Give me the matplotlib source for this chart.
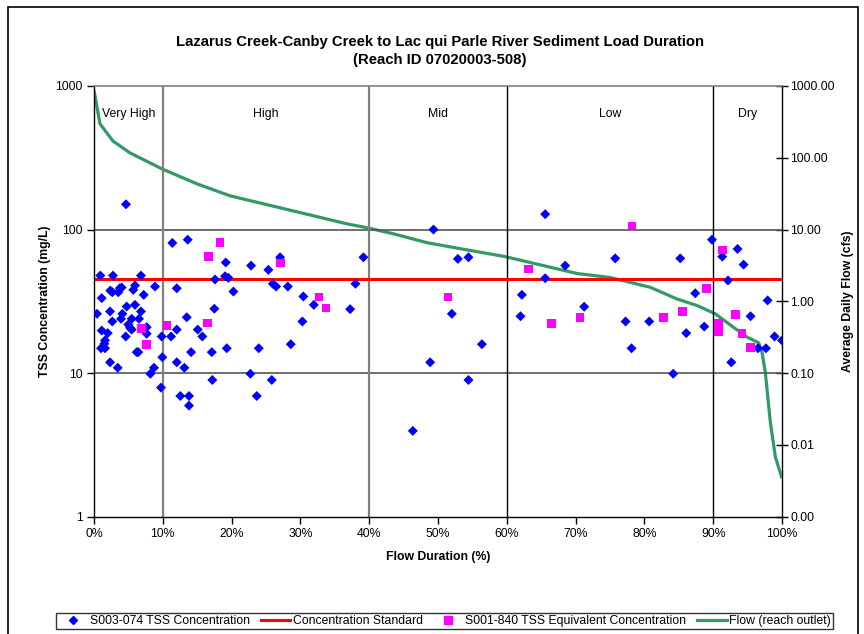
import matplotlib
matplotlib.use("Agg")
import matplotlib.pyplot as plt
from matplotlib.lines import Line2D
from matplotlib.patches import Rectangle
from matplotlib.ticker import FixedLocator, FixedFormatter, NullLocator

plt.rcParams['font.family'] = ['Liberation Sans', 'DejaVu Sans']

# ---------------- data ----------------
tss_x = [0.92, 2.76, 6.83, 4.65, 11.39, 13.62, 19.15, 19.05, 19.53, 17.59, 20.26,
         5.96, 8.87, 12.03, 3.74, 4.03, 2.37, 2.66, 3.53, 5.71, 7.23, 1.12, 4.75,
         5.96, 17.49, 2.33, 6.83, 0.44, 4.12, 13.48, 3.93, 5.48, 6.54, 2.66, 4.99,
         5.23, 5.48, 7.66, 1.12, 1.99, 7.66, 12.03, 15.08, 4.61, 9.84, 11.20, 15.75,
         1.60, 1.50, 1.02, 1.60, 6.21, 6.44, 14.11, 17.12, 19.30, 9.93, 2.33, 3.45,
         12.03, 13.13, 8.72, 8.19, 17.20, 9.74, 12.55, 13.81, 13.81, 22.73, 23.66,
         25.84, 28.60, 30.29, 23.95, 27.05, 22.83, 25.35, 39.16, 25.99, 26.47, 28.17,
         38.00, 30.43, 31.95, 37.23, 49.34, 52.89, 54.43, 68.49, 65.58, 62.19, 61.99,
         71.25, 52.01, 56.38, 48.86, 54.43, 46.34, 65.58, 89.82, 75.76, 85.21, 93.54,
         91.32, 94.42, 92.15, 87.39, 97.91, 77.26, 80.70, 95.43, 86.08, 88.70, 98.92,
         100.0, 78.13, 96.51, 97.67, 92.63, 84.19]
tss_y = [47.8, 47.8, 47.8, 150, 80.7, 85, 59, 47.3, 46.1, 44.9, 37,
         40.8, 40.1, 39, 39, 39.5, 37.6, 36.6, 36.6, 38, 35.1, 33.3, 29.1,
         29.9, 28.1, 26.9, 26.9, 25.9, 25.9, 24.5, 23.9, 23.9, 23.9, 22.9, 21.8,
         20.7, 20.1, 20.9, 19.8, 19, 18.8, 20.1, 20.1, 18, 18, 18, 18,
         16.9, 16.0, 14.9, 14.9, 14.0, 14.0, 14.0, 14.0, 14.9, 12.9, 11.9, 10.9,
         11.9, 10.9, 10.9, 9.9, 8.96, 7.93, 6.93, 6.93, 5.94, 9.9, 6.93,
         8.96, 15.9, 22.9, 14.9, 64.1, 56.1, 52.4, 64.1, 41.9, 40.1, 40.1,
         41.9, 34.2, 29.9, 27.9, 100, 62.5, 64.1, 56.1, 45.8, 35.1, 24.9,
         29, 25.9, 15.9, 11.9, 8.96, 3.96, 128, 85, 63, 63, 73.3,
         64.8, 57, 44.2, 36, 32.1, 22.9, 22.9, 24.9, 19, 21.1, 18,
         16.9, 14.9, 14.9, 14.9, 11.9, 9.9]

equiv_x = [18.32, 16.62, 6.94, 10.62, 16.53, 7.61, 27.09, 32.72, 33.74, 63.15, 51.43,
           66.50, 70.67, 78.19, 91.32, 88.99, 82.78, 85.50, 93.21, 90.76, 90.76,
           94.18, 95.39]
equiv_y = [81.5, 64.8, 20.4, 21.5, 22.3, 15.8, 58.6, 34, 28.5, 53.2, 34,
           22.2, 24.4, 106, 72.1, 39, 24.5, 26.9, 25.6, 22.3, 19.5,
           18.8, 15.1]

standard_value = 45

flow_x = [0, 0.1, 0.87, 2.76, 5.23, 9.89, 14.98, 19.78, 24.57, 31.85, 36.79, 39.70,
          43.48, 48.42, 53.22, 59.76, 65.29, 70.23, 75.03, 80.85, 84.73, 87.64,
          90.30, 92.92, 94.91, 96.60, 97.09, 97.57, 98.30, 99.03, 100.0]
flow_y = [850, 770, 297, 171, 117, 70, 43.3, 29.5, 22.9, 15.6, 12.0, 10.6,
          8.75, 6.56, 5.42, 4.20, 3.15, 2.44, 2.15, 1.57, 1.08, 0.875,
          0.671, 0.437, 0.318, 0.265, 0.196, 0.104, 0.0209, 0.00683, 0.00342]

zone_bounds = [10, 40, 60, 90]
zone_labels = ["Very High", "High", "Mid", "Low", "Dry"]
zone_label_x = [5, 25, 50, 75, 95]

x_ticks = list(range(0, 101, 10))
x_tick_labels = [f"{t}%" for t in x_ticks]
left_ticks = [1, 10, 100, 1000]
left_tick_labels = ["1", "10", "100", "1000"]
right_ticks = [0.001, 0.01, 0.1, 1, 10, 100, 1000]
right_tick_labels = ["0.00", "0.01", "0.10", "1.00", "10.00", "100.00", "1000.00"]

title = "Lazarus Creek-Canby Creek to Lac qui Parle River Sediment Load Duration\n(Reach ID 07020003-508)"

# ---------------- figure ----------------
W, H = 864, 634
fig = plt.figure(figsize=(W / 100, H / 100), dpi=100)
fig.patch.set_facecolor("white")

FS = 8.8

L, R, T, B = 94, 782, 86, 516.7
ax = fig.add_axes([L / W, 1 - B / H, (R - L) / W, (B - T) / H])
ax2 = ax.twinx()

# flow line on secondary axis
ax2.plot(flow_x, flow_y, color="#339966", lw=2.3, solid_capstyle="butt", zorder=3)
ax2.set_yscale("log")
ax2.set_ylim(0.001, 1000)
ax2.yaxis.set_major_locator(FixedLocator(right_ticks))
ax2.yaxis.set_major_formatter(FixedFormatter(right_tick_labels))
ax2.yaxis.set_minor_locator(NullLocator())
ax2.tick_params(axis="y", direction="inout", length=8, width=1, labelsize=FS, pad=2)
ax2.set_ylabel("Average Daily Flow (cfs)", fontsize=8.8, fontweight="bold", rotation=90)
ax2.yaxis.set_label_coords(1.087, 0.5)
for s in ["top", "left", "bottom"]:
    ax2.spines[s].set_visible(False)
ax2.spines["right"].set_linewidth(1)

# primary axis on top
ax.set_zorder(ax2.get_zorder() + 1)
ax.patch.set_visible(False)

ax.set_yscale("log")
ax.set_ylim(1, 1000)
ax.set_xlim(0, 100)

# gridlines / zone lines
for v in [10, 100]:
    ax.axhline(v, color="#555555", lw=1.2, zorder=1)
for zb in zone_bounds:
    col = "#808080" if zb in (10, 40) else "#000000"
    lw = 1.6 if zb in (10, 40) else 1.0
    ax.axvline(zb, color=col, lw=lw, zorder=1)

ax.axhline(standard_value, color="#FF0000", lw=2.2, zorder=2)

ax.scatter(tss_x, tss_y, marker="D", s=26, color="#0000FF", edgecolors="none", zorder=4)
ax.scatter(equiv_x, equiv_y, marker="s", s=38, color="#FF00FF", edgecolors="none", zorder=4)

for lab, lx in zip(zone_labels, zone_label_x):
    ax.text(lx, 640, lab, ha="center", va="center", fontsize=FS)

ax.xaxis.set_major_locator(FixedLocator(x_ticks))
ax.xaxis.set_major_formatter(FixedFormatter(x_tick_labels))
ax.yaxis.set_major_locator(FixedLocator(left_ticks))
ax.yaxis.set_major_formatter(FixedFormatter(left_tick_labels))
ax.yaxis.set_minor_locator(NullLocator())
ax.tick_params(axis="both", direction="out", length=5, width=1, labelsize=FS, pad=3)
ax.set_xlabel("Flow Duration (%)", fontsize=8.8, fontweight="bold")
ax.xaxis.set_label_coords(0.5, -0.079)
ax.set_ylabel("TSS Concentration (mg/L)", fontsize=8.8, fontweight="bold")
ax.yaxis.set_label_coords(-0.062, 0.5)

ax.spines["top"].set_color("#808080")
ax.spines["top"].set_linewidth(1.2)
ax.spines["right"].set_visible(False)
for s in ["left", "bottom"]:
    ax.spines[s].set_linewidth(1)

# title
fig.text(440 / W, 1 - 51 / H, title, ha="center", va="center", fontsize=10.7,
         fontweight="bold", linespacing=1.35)

# legend
handles = [
    Line2D([], [], marker="D", color="#0000FF", ls="none", markersize=4.5),
    Line2D([], [], color="#FF0000", lw=2.2),
    Line2D([], [], marker="s", color="#FF00FF", ls="none", markersize=5.5),
    Line2D([], [], color="#339966", lw=2.3),
]
labels = ["S003-074 TSS Concentration", "Concentration Standard",
          "S001-840 TSS Equivalent Concentration", "Flow (reach outlet)"]
leg = fig.legend(handles, labels, loc="center", bbox_to_anchor=(444.5 / W, 1 - 621 / H),
                 ncol=4, fontsize=FS, frameon=True, fancybox=False, edgecolor="black",
                 borderpad=0.2, handlelength=2.4, handletextpad=0.2, columnspacing=0.9,
                 borderaxespad=0)
leg.get_frame().set_linewidth(1)

# outer chart frame
fig.patches.append(Rectangle((8 / W, -0.05), (858 - 8) / W, 1 - 7 / H + 0.05,
                             transform=fig.transFigure, fill=False, edgecolor="black",
                             lw=1.2, clip_on=False))

fig.savefig("out.png", dpi=100)
